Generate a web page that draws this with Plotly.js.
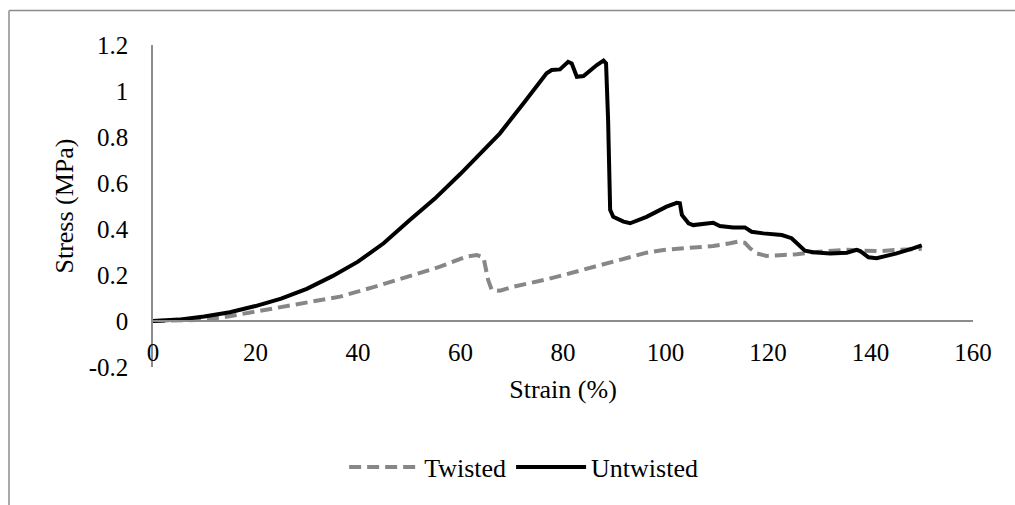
<!DOCTYPE html>
<html>
<head>
<meta charset="utf-8">
<script src="https://cdn.plot.ly/plotly-3.0.1.min.js"></script>
</head>
<body style="margin:0">
<div id="chart"></div>
<script>
// ---- Data ----
const seriesNames = ["Twisted", "Untwisted"];

const twistedStrain = [0, 8.5, 13.7, 18.9, 25.4, 31.9, 36.5, 43, 49.5, 56, 61.2, 63.2, 64.5, 64.8, 65.4, 66.1, 67.7,
  70.3, 73.6, 76.8, 80.1, 83.3, 86.6, 89.8, 93.1, 96.3, 99.6, 102.8, 106.1, 109.3, 112.6, 114.2, 115.5,
  116.5, 117.8, 119.7, 122.3, 125.6, 128.8, 132.1, 135.4, 138.6, 141.9, 145.1, 148.3, 150];
const twistedStress = [0, 0.004, 0.016, 0.036, 0.06, 0.084, 0.106, 0.147, 0.19, 0.236, 0.28, 0.287, 0.275, 0.236, 0.178, 0.135, 0.132,
  0.149, 0.164, 0.181, 0.2, 0.219, 0.239, 0.262, 0.28, 0.297, 0.309, 0.316, 0.319, 0.326, 0.338, 0.345, 0.34,
  0.316, 0.294, 0.283, 0.286, 0.29, 0.299, 0.306, 0.31, 0.306, 0.304, 0.309, 0.312, 0.314];

const untwistedStrain = [0, 5, 10, 15, 20, 25, 30, 35, 40, 45, 50, 55, 60, 63.8, 67.7, 72.3, 74.2, 76.8, 77.8,
  79.4, 81.0, 81.7, 82.7, 84.0, 86.6, 87.9, 88.4, 88.8, 89.2, 89.8, 91.8, 93.1, 96.3, 100.2, 102.2, 102.8,
  103.2, 104.5, 105.4, 109.3, 110.6, 113.2, 115.5, 116.8, 119.1, 122.7, 124.6, 125.6, 127.2, 128.8, 132.1,
  135.4, 137.3, 138.0, 139.6, 141.2, 145.1, 148.3, 150];
const untwistedStress = [0, 0.006, 0.02, 0.038, 0.065, 0.097, 0.14, 0.195, 0.258, 0.338, 0.437, 0.532, 0.64, 0.729, 0.816, 0.947, 1.004, 1.077, 1.091,
  1.094, 1.127, 1.12, 1.062, 1.065, 1.113, 1.132, 1.12, 0.874, 0.483, 0.453, 0.432, 0.425, 0.453, 0.497, 0.514, 0.512,
  0.461, 0.425, 0.417, 0.427, 0.413, 0.407, 0.407, 0.388, 0.381, 0.374, 0.36, 0.338, 0.306, 0.299, 0.294,
  0.297, 0.309, 0.304, 0.277, 0.273, 0.294, 0.316, 0.329];

const xTickVals = [0, 20, 40, 60, 80, 100, 120, 140, 160];
const xTickText = ["0", "20", "40", "60", "80", "100", "120", "140", "160"];
const yTickVals = [-0.2, 0, 0.2, 0.4, 0.6, 0.8, 1, 1.2];
const yTickText = ["-0.2", "0", "0.2", "0.4", "0.6", "0.8", "1", "1.2"];

const xTitle = "Strain (%)";
const yTitle = "Stress (MPa)";

// ---- Plot ----
const SERIF = "Times New Roman";
const AXIS_GRAY = "#8c8c8c";

const traces = [
  {
    x: twistedStrain, y: twistedStress, name: seriesNames[0],
    type: "scatter", mode: "lines",
    line: { color: "#878787", width: 4, dash: "12px,6px" }
  },
  {
    x: untwistedStrain, y: untwistedStress, name: seriesNames[1],
    type: "scatter", mode: "lines",
    line: { color: "#000000", width: 4 }
  }
];

const plotL = 153, plotR = 973, plotT = 45, plotB = 367;
const W = 1015, H = 505;
const pw = plotR - plotL, ph = plotB - plotT;
const px = v => (v - plotL) / pw;
const py = v => (plotB - v) / ph;

const layout = {
  width: W, height: H,
  margin: { l: plotL, r: W - plotR, t: plotT, b: H - plotB, pad: 0 },
  paper_bgcolor: "#ffffff",
  plot_bgcolor: "#ffffff",
  font: { family: SERIF, size: 25, color: "#000000" },
  showlegend: true,
  legend: {
    orientation: "h",
    x: 0.452, xanchor: "center",
    y: py(467), yanchor: "middle",
    font: { family: SERIF, size: 26, color: "#000000" },
    itemwidth: 70,
    bgcolor: "rgba(0,0,0,0)",
    traceorder: "normal"
  },
  xaxis: {
    range: [0, 160],
    tickmode: "array", tickvals: xTickVals, ticktext: xTickText,
    showgrid: false, zeroline: false,
    showline: true, linecolor: AXIS_GRAY, linewidth: 1.5,
    ticks: "outside", ticklen: 9, tickcolor: "rgba(0,0,0,0)",
    anchor: "free", position: py(321),
    tickfont: { family: SERIF, size: 25, color: "#000000" },
    title: { text: xTitle, font: { family: SERIF, size: 26, color: "#000000" }, standoff: 14 },
    fixedrange: true
  },
  yaxis: {
    range: [-0.2, 1.2],
    tickmode: "array", tickvals: yTickVals, ticktext: yTickText,
    showgrid: false, zeroline: false,
    showline: true, linecolor: AXIS_GRAY, linewidth: 1.5,
    ticks: "outside", ticklen: 18, tickcolor: "rgba(0,0,0,0)",
    tickfont: { family: SERIF, size: 25, color: "#000000" },
    title: { text: yTitle, font: { family: SERIF, size: 26, color: "#000000" }, standoff: 8 },
    fixedrange: true
  },
  shapes: [
    { type: "line", xref: "paper", yref: "paper", x0: px(9), x1: px(1015), y0: py(10.5), y1: py(10.5),
      line: { color: AXIS_GRAY, width: 1.5 } },
    { type: "line", xref: "paper", yref: "paper", x0: px(9), x1: px(9), y0: py(10.5), y1: py(505),
      line: { color: AXIS_GRAY, width: 1.5 } }
  ]
};

Plotly.newPlot("chart", traces, layout, { displayModeBar: false });
</script>
</body>
</html>
